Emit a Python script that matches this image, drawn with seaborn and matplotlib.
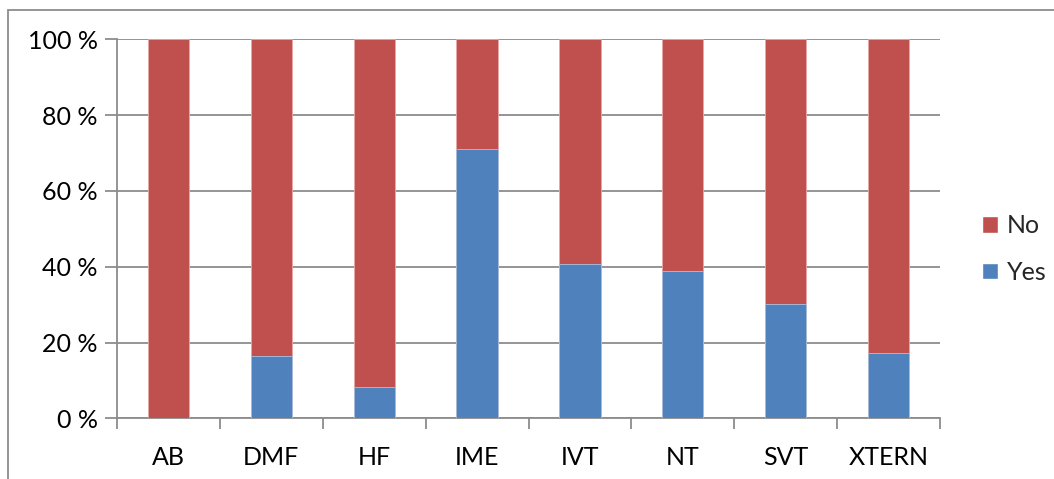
import numpy as np
import pandas as pd
import seaborn as sns
import matplotlib.pyplot as plt
from matplotlib.patches import Patch, Rectangle
from matplotlib.ticker import FuncFormatter, FixedLocator

# values (percent of each group)
groups = ['AB', 'DMF', 'HF', 'IME', 'IVT', 'NT', 'SVT', 'XTERN']
yes = [0.0, 16.4, 8.2, 71.0, 40.6, 38.9, 30.1, 17.1]
no = [100.0, 83.6, 91.8, 29.0, 59.4, 61.1, 69.9, 82.9]

red = '#C0504D'
blue = '#4F81BD'
grid_col = '#8C8C8C'

df = pd.DataFrame({'group': groups, 'Yes': yes, 'No': no})
df['total'] = df['Yes'] + df['No']

sns.set_theme(style='white')
plt.rcParams['font.family'] = ['Lato', 'DejaVu Sans']

fig = plt.figure(figsize=(10.54, 4.79), dpi=100)
ax = fig.add_axes([117 / 1054, 1 - 418.3 / 479, (940 - 117) / 1054, (418.3 - 39.3) / 479])

# stacked: full bar in red (No), Yes drawn over the bottom part
sns.barplot(data=df, x='group', y='total', color=red, width=0.4, saturation=1,
            edgecolor='#E8A8A6', linewidth=0.6, ax=ax, zorder=3)
sns.barplot(data=df, x='group', y='Yes', color=blue, width=0.4, saturation=1,
            edgecolor='#A9C2E0', linewidth=0.6, ax=ax, zorder=3)

ax.set_xlim(-0.5, len(groups) - 0.5)
ax.set_ylim(0, 100)
ax.set_yticks([0, 20, 40, 60, 80, 100])
ax.yaxis.set_major_formatter(FuncFormatter(lambda v, p: f'{int(v)} %'))
ax.set_xlabel('')
ax.set_ylabel('')

ax.grid(axis='y', color=grid_col, linewidth=1.3, zorder=0)
ax.set_axisbelow(True)
for s in ['top', 'right']:
    ax.spines[s].set_visible(False)
for s in ['left', 'bottom']:
    ax.spines[s].set_color(grid_col)
    ax.spines[s].set_linewidth(1.3)

fs = 18
ax.tick_params(axis='y', which='major', left=True, length=9, width=1.3, color=grid_col,
               labelsize=fs, pad=5, labelcolor='black')
ax.tick_params(axis='x', which='major', length=0, labelsize=fs, pad=20, labelcolor='black')
ax.xaxis.set_minor_locator(FixedLocator(np.arange(-0.5, len(groups), 1.0)))
ax.tick_params(axis='x', which='minor', bottom=True, length=8, width=1.3, color=grid_col)

handles = [Patch(facecolor=red, label='No'), Patch(facecolor=blue, label='Yes')]
fig.legend(handles=handles, loc='upper left', bbox_to_anchor=(982 / 1054, 1 - 214 / 479),
           frameon=False, fontsize=fs, handlelength=0.65, handleheight=0.65,
           handletextpad=0.35, labelspacing=0.95, borderpad=0, borderaxespad=0)

# outer chart border (top and left visible)
fig.patches.append(Rectangle((8 / 1054, -0.1), 1.2, 1.1 - 10 / 479, transform=fig.transFigure,
                             fill=False, edgecolor='#8C8C8C', linewidth=1.3))

fig.savefig('out.png', dpi=100)
